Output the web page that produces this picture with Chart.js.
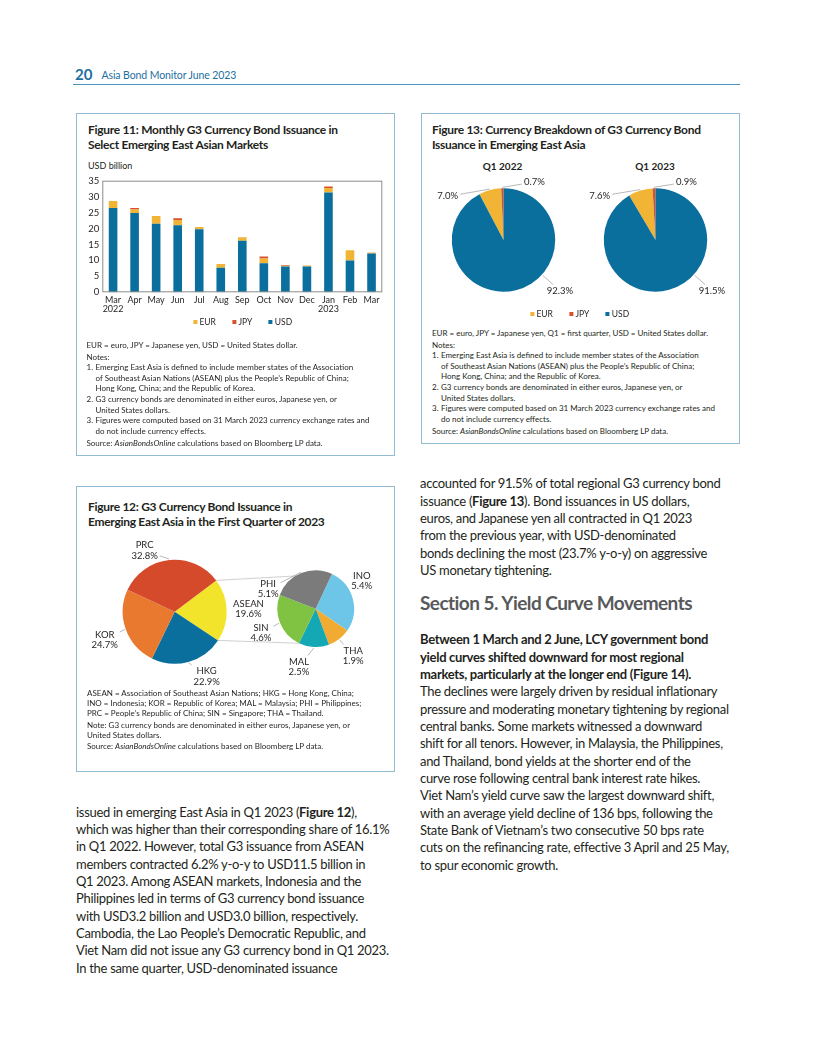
<!DOCTYPE html>
<html>
<head>
<meta charset="utf-8">
<script src="https://cdn.jsdelivr.net/npm/chart.js@4.4.0/dist/chart.umd.min.js"></script>
<style>
body { margin: 0; background: #fff; font-family: Lato, sans-serif; color: #231f20; }
.page { position: relative; width: 816px; height: 1056px; overflow: hidden; }
.abs { position: absolute; white-space: nowrap; }
.box { position: absolute; border: 1px solid #93bbd1; box-sizing: border-box; }
.ftitle { position: absolute; font-weight: 700; font-size: 12px; line-height: 15px; letter-spacing: -0.3px; white-space: nowrap; }
.notes { position: absolute; font-size: 8px; line-height: 10.6px; white-space: nowrap; }
.notes .gap { margin-top: 1.5px; }
.notes .li { position: relative; padding-left: 9px; }
.notes .li span { position: absolute; left: 0; }
.body { position: absolute; font-size: 13px; line-height: 17.35px; letter-spacing: -0.3px; white-space: nowrap; }
.legend { position: absolute; display: flex; gap: 16px; font-size: 8.5px; transform: translateX(-50%); white-space: nowrap; }
.legend i { display: inline-block; width: 4.5px; height: 4.5px; margin-right: 2px; vertical-align: 1px; }
canvas { position: absolute; }
</style>
</head>
<body>
<div class="page">
  <div class="abs" style="left:75px;top:65px;font-size:15px;font-weight:700;color:#1e6f9f;">20</div>
  <div class="abs" style="left:101.5px;top:68.5px;font-size:10.5px;color:#1e6f9f;letter-spacing:-0.1px;">Asia Bond Monitor June 2023</div>
  <div class="abs" style="left:73px;top:84px;width:667px;height:1px;background:#4a93bb;"></div>

  <!-- Figure 11 -->
  <div class="box" style="left:76px;top:112.5px;width:319px;height:343px;"></div>
  <div class="ftitle" style="left:88px;top:122px;">Figure 11: Monthly G3 Currency Bond Issuance in<br>Select Emerging East Asian Markets</div>
  <div class="abs" style="left:88px;top:160px;font-size:9px;">USD billion</div>
  <canvas id="fig11" width="315" height="150" style="left:78px;top:172px;"></canvas>
  <div class="legend" id="leg11" style="left:242.5px;top:317px;"></div>
  <div class="notes" style="left:86.5px;top:339.5px;">
    <div>EUR = euro, JPY = Japanese yen, USD = United States dollar.</div>
    <div class="gap">Notes:</div>
    <div class="li"><span>1.</span>Emerging East Asia is defined to include member states of the Association<br>of Southeast Asian Nations (ASEAN) plus the People’s Republic of China;<br>Hong Kong, China; and the Republic of Korea.</div>
    <div class="li"><span>2.</span>G3 currency bonds are denominated in either euros, Japanese yen, or<br>United States dollars.</div>
    <div class="li"><span>3.</span>Figures were computed based on 31 March 2023 currency exchange rates and<br>do not include currency effects.</div>
    <div class="gap">Source: <i>AsianBondsOnline</i> calculations based on Bloomberg LP data.</div>
  </div>

  <!-- Figure 13 -->
  <div class="box" style="left:421px;top:112.5px;width:319px;height:331.5px;"></div>
  <div class="ftitle" style="left:432px;top:122px;">Figure 13: Currency Breakdown of G3 Currency Bond<br>Issuance in Emerging East Asia</div>
  <div class="abs" id="pt0" style="left:502.5px;top:160px;font-size:10px;font-weight:700;transform:translateX(-50%);"></div>
  <div class="abs" id="pt1" style="left:655px;top:160px;font-size:10px;font-weight:700;transform:translateX(-50%);"></div>
  <canvas id="fig13a" width="160" height="135" style="left:424px;top:172px;"></canvas>
  <canvas id="fig13b" width="160" height="135" style="left:576px;top:172px;"></canvas>
  <div class="legend" id="leg13" style="left:579.5px;top:309px;"></div>
  <div class="notes" style="left:432px;top:327.5px;">
    <div>EUR = euro, JPY = Japanese yen, Q1 = first quarter, USD = United States dollar.</div>
    <div class="gap">Notes:</div>
    <div class="li"><span>1.</span>Emerging East Asia is defined to include member states of the Association<br>of Southeast Asian Nations (ASEAN) plus the People’s Republic of China;<br>Hong Kong, China; and the Republic of Korea.</div>
    <div class="li"><span>2.</span>G3 currency bonds are denominated in either euros, Japanese yen, or<br>United States dollars.</div>
    <div class="li"><span>3.</span>Figures were computed based on 31 March 2023 currency exchange rates and<br>do not include currency effects.</div>
    <div class="gap">Source: <i>AsianBondsOnline</i> calculations based on Bloomberg LP data.</div>
  </div>

  <!-- Figure 12 -->
  <div class="box" style="left:76px;top:486px;width:319px;height:285.5px;"></div>
  <div class="ftitle" style="left:88px;top:499px;">Figure 12: G3 Currency Bond Issuance in<br>Emerging East Asia in the First Quarter of 2023</div>
  <canvas id="fig12" width="316" height="155" style="left:78px;top:535px;"></canvas>
  <canvas id="fig12sub" width="150" height="135" style="left:246px;top:555px;"></canvas>
  <div class="notes" style="left:87px;top:688px;line-height:10px;">
    <div>ASEAN = Association of Southeast Asian Nations; HKG = Hong Kong, China;<br>INO = Indonesia; KOR = Republic of Korea; MAL = Malaysia; PHI = Philippines;<br>PRC = People’s Republic of China; SIN = Singapore; THA = Thailand.</div>
    <div class="gap">Note: G3 currency bonds are denominated in either euros, Japanese yen, or<br>United States dollars.</div>
    <div class="gap">Source: <i>AsianBondsOnline</i> calculations based on Bloomberg LP data.</div>
  </div>

  <!-- body text -->
  <div class="body" style="left:76px;top:803.6px;">issued in emerging East Asia in Q1 2023 (<b>Figure 12</b>),<br>which was higher than their corresponding share of 16.1%<br>in Q1 2022. However, total G3 issuance from ASEAN<br>members contracted 6.2% y-o-y to USD11.5 billion in<br>Q1 2023. Among ASEAN markets, Indonesia and the<br>Philippines led in terms of G3 currency bond issuance<br>with USD3.2 billion and USD3.0 billion, respectively.<br>Cambodia, the Lao People’s Democratic Republic, and<br>Viet Nam did not issue any G3 currency bond in Q1 2023.<br>In the same quarter, USD-denominated issuance</div>
  <div class="body" style="left:420px;top:475.3px;">accounted for 91.5% of total regional G3 currency bond<br>issuance (<b>Figure 13</b>). Bond issuances in US dollars,<br>euros, and Japanese yen all contracted in Q1 2023<br>from the previous year, with USD-denominated<br>bonds declining the most (23.7% y-o-y) on aggressive<br>US monetary tightening.</div>
  <div class="abs" style="left:420px;top:591px;font-size:19px;line-height:24px;font-weight:700;color:#58595b;letter-spacing:-0.55px;">Section 5. Yield Curve Movements</div>
  <div class="body" style="left:420px;top:631.3px;"><b>Between 1 March and 2 June, LCY government bond<br>yield curves shifted downward for most regional<br>markets, particularly at the longer end (Figure 14).</b><br>The declines were largely driven by residual inflationary<br>pressure and moderating monetary tightening by regional<br>central banks. Some markets witnessed a downward<br>shift for all tenors. However, in Malaysia, the Philippines,<br>and Thailand, bond yields at the shorter end of the<br>curve rose following central bank interest rate hikes.<br>Viet Nam’s yield curve saw the largest downward shift,<br>with an average yield decline of 136 bps, following the<br>State Bank of Vietnam’s two consecutive 50 bps rate<br>cuts on the refinancing rate, effective 3 April and 25 May,<br>to spur economic growth.</div>
</div>

<script>
// Figure 11: monthly G3 issuance, USD billion
const months = [['Mar', '2022'], 'Apr', 'May', 'Jun', 'Jul', 'Aug', 'Sep', 'Oct', 'Nov', 'Dec', ['Jan', '2023'], 'Feb', 'Mar'];
const usdIssuance = [26.4, 24.9, 21.5, 21.0, 19.8, 7.7, 16.2, 9.1, 8.1, 8.1, 31.3, 10.0, 12.2];
const eurIssuance = [2.2, 1.1, 2.4, 1.7, 0.7, 1.2, 1.0, 1.5, 0.2, 0.3, 1.4, 3.2, 0.3];
const jpyIssuance = [0, 0.4, 0, 0.5, 0, 0, 0.1, 0.6, 0.3, 0, 0.5, 0, 0];
const yTicks = [0, 5, 10, 15, 20, 25, 30, 35];

// Figure 13: currency shares (%)
const currencies = ['EUR', 'JPY', 'USD'];
const shareQ1_2022 = [7.0, 0.7, 92.3];
const shareQ1_2023 = [7.6, 0.9, 91.5];
const pieTitles = ['Q1 2022', 'Q1 2023'];

// Figure 12: shares of Q1 2023 issuance (%)
const economies = ['ASEAN', 'HKG', 'KOR', 'PRC'];
const economyShare = [19.6, 22.9, 24.7, 32.8];
const aseanMembers = ['INO', 'THA', 'MAL', 'SIN', 'PHI'];
const aseanShare = [5.4, 1.9, 2.5, 4.6, 5.1];

const COL = { EUR: '#f1b434', JPY: '#d9512c', USD: '#0a6f9d' };
const FONT = 'Lato';
Chart.defaults.font.family = FONT;
Chart.defaults.color = '#231f20';
Chart.defaults.animation = false;

function buildLegend(id, names) {
    document.getElementById(id).innerHTML = names
        .map(n => `<span><i style="background:${COL[n]}"></i>${n}</span>`).join('');
}

const plotFrame = {
    id: 'plotFrame',
    afterDraw(chart) {
        const { left, top, width, height } = chart.chartArea;
        const ctx = chart.ctx;
        ctx.save();
        ctx.strokeStyle = '#8c8c8c';
        ctx.lineWidth = 1;
        ctx.strokeRect(left + 0.5, top + 0.5, width - 1, height - 1);
        ctx.restore();
    }
};

// labels with leader lines for pie slices
const sliceLabels = {
    id: 'sliceLabels',
    afterDatasetsDraw(chart, args, opts) {
        if (!opts.texts) return;
        const ctx = chart.ctx;
        const arcs = chart.getDatasetMeta(0).data;
        ctx.save();
        ctx.font = `${opts.size}px ${FONT}`;
        ctx.textAlign = 'center';
        ctx.textBaseline = 'middle';
        arcs.forEach((arc, i) => {
            const { x, y, startAngle, endAngle, outerRadius: r } = arc;
            const spot = opts.spots[i];
            let a = spot[0] * Math.PI / 180;
            const lx = x + spot[1] * r * Math.cos(a), ly = y + spot[1] * r * Math.sin(a);
            const lines = opts.texts[i];
            const lh = opts.size * 1.1;
            let hw = 0;
            ctx.fillStyle = '#231f20';
            lines.forEach((t, k) => {
                hw = Math.max(hw, ctx.measureText(t).width / 2);
                ctx.fillText(t, lx, ly + (k - (lines.length - 1) / 2) * lh);
            });
            if (opts.noLeader && opts.noLeader.includes(i)) return;
            const hh = lines.length * lh / 2;
            let anchor = (startAngle + endAngle) / 2;
            if (endAngle - startAngle > Math.PI) {
                while (a < startAngle) a += 2 * Math.PI;
                while (a > startAngle + 2 * Math.PI) a -= 2 * Math.PI;
                anchor = Math.min(Math.max(a, startAngle + 0.2), endAngle - 0.2);
            }
            const px = x + (r + 1) * Math.cos(anchor), py = y + (r + 1) * Math.sin(anchor);
            const dx = px - lx, dy = py - ly;
            const s = Math.min(dx ? (hw + 2) / Math.abs(dx) : Infinity, dy ? (hh + 1) / Math.abs(dy) : Infinity);
            if (s >= 1) return;
            ctx.strokeStyle = '#9a9a9a';
            ctx.lineWidth = 0.7;
            ctx.beginPath();
            ctx.moveTo(lx + s * dx, ly + s * dy);
            ctx.lineTo(px, py);
            ctx.stroke();
        });
        ctx.restore();
    }
};

// grey lines joining the ASEAN slice to the breakdown pie
const connectors = {
    id: 'connectors',
    afterDatasetsDraw(chart, args, opts) {
        const sub = opts.target && opts.target();
        if (!sub) return;
        const main = chart.getDatasetMeta(0).data[opts.from];
        const arcs = sub.getDatasetMeta(0).data;
        const c1 = chart.canvas.getBoundingClientRect(), c2 = sub.canvas.getBoundingClientRect();
        const ox = c2.left - c1.left, oy = c2.top - c1.top;
        const pt = (arc, ang, dx, dy) => [dx + arc.x + arc.outerRadius * Math.cos(ang), dy + arc.y + arc.outerRadius * Math.sin(ang)];
        const pairs = [
            [pt(main, main.startAngle, 0, 0), pt(arcs[0], arcs[0].startAngle, ox, oy)],
            [pt(main, main.endAngle, 0, 0), pt(arcs[2], arcs[2].endAngle, ox, oy)]
        ];
        const ctx = chart.ctx;
        ctx.save();
        ctx.strokeStyle = '#c4c4c4';
        ctx.lineWidth = 0.8;
        pairs.forEach(([p, q]) => {
            ctx.beginPath();
            ctx.moveTo(p[0], p[1]);
            ctx.lineTo(q[0], q[1]);
            ctx.stroke();
        });
        ctx.restore();
    }
};

// ---- Figure 11
new Chart(document.getElementById('fig11'), {
    type: 'bar',
    data: {
        labels: months,
        datasets: [
            { label: 'USD', data: usdIssuance, backgroundColor: COL.USD },
            { label: 'EUR', data: eurIssuance, backgroundColor: COL.EUR },
            { label: 'JPY', data: jpyIssuance, backgroundColor: COL.JPY }
        ]
    },
    options: {
        responsive: false,
        layout: { padding: { top: 5.3, right: 10.7, left: 0, bottom: 0 } },
        datasets: { bar: { categoryPercentage: 1, barPercentage: 0.4 } },
        scales: {
            x: {
                stacked: true,
                grid: { display: false, drawTicks: false },
                border: { display: false },
                ticks: { maxRotation: 0, autoSkip: false, padding: 3, font: { size: 9, lineHeight: 1.05 } },
                afterFit: axis => { axis.height = 29.7; }
            },
            y: {
                stacked: true,
                min: 0,
                max: 35,
                grid: { display: false, drawTicks: false },
                border: { display: false },
                ticks: { padding: 3, font: { size: 9.5 } },
                afterBuildTicks: axis => { axis.ticks = yTicks.map(v => ({ value: v })); },
                afterFit: axis => { axis.width = 24.3; }
            }
        },
        plugins: { legend: { display: false }, tooltip: { enabled: false } }
    },
    plugins: [plotFrame]
});
buildLegend('leg11', currencies);

// ---- Figure 13
const pctText = arr => arr.map(v => [v.toFixed(1) + '%']);
const currencySpots = [[218, 1.37], [-62, 1.27], [42, 1.47]];
[shareQ1_2022, shareQ1_2023].forEach((shares, k) => {
    document.getElementById('pt' + k).textContent = pieTitles[k];
    new Chart(document.getElementById(k ? 'fig13b' : 'fig13a'), {
        type: 'pie',
        data: {
            labels: currencies,
            datasets: [{ data: shares, backgroundColor: currencies.map(c => COL[c]), borderWidth: 0 }]
        },
        options: {
            responsive: false,
            rotation: -(shares[0] + shares[1]) / 100 * 360,
            layout: { padding: { left: 27.8, right: 28.8, top: 16.3, bottom: 15.3 } },
            plugins: {
                legend: { display: false },
                tooltip: { enabled: false },
                sliceLabels: { texts: pctText(shares), spots: currencySpots, size: 9.5 }
            }
        },
        plugins: [sliceLabels]
    });
});
buildLegend('leg13', currencies);

// ---- Figure 12
const nameText = (names, vals) => names.map((n, i) => [n, vals[i].toFixed(1) + '%']);
const subChart = new Chart(document.getElementById('fig12sub'), {
    type: 'pie',
    data: {
        labels: aseanMembers,
        datasets: [{ data: aseanShare, backgroundColor: ['#6dc6e7', '#f1ab33', '#14a7b4', '#80c242', '#7b7b7b'], borderWidth: 0 }]
    },
    options: {
        responsive: false,
        rotation: 25,
        layout: { padding: { left: 31.3, right: 41.9, top: 15.3, bottom: 42.9 } },
        plugins: {
            legend: { display: false },
            tooltip: { enabled: false },
            sliceLabels: {
                texts: nameText(aseanMembers, aseanShare),
                spots: [[-31, 1.4], [51.5, 1.57], [106, 1.58], [156, 1.56], [202.4, 1.34]],
                noLeader: [0],
                size: 9.5
            }
        }
    },
    plugins: [sliceLabels]
});

new Chart(document.getElementById('fig12'), {
    type: 'pie',
    data: {
        labels: economies,
        datasets: [{ data: economyShare, backgroundColor: ['#f2e42b', '#0a6f9d', '#e8792f', '#d64a2c'], borderWidth: 0 }]
    },
    options: {
        responsive: false,
        rotation: 53,
        layout: { padding: { left: 44.7, right: 167.3, top: 24.7, bottom: 26.3 } },
        plugins: {
            legend: { display: false },
            tooltip: { enabled: false },
            sliceLabels: {
                texts: nameText(economies, economyShare),
                spots: [[-2, 1.42], [63.8, 1.39], [158, 1.45], [243.8, 1.31]],
                noLeader: [0],
                size: 9.5
            },
            connectors: { target: () => subChart, from: 0 }
        }
    },
    plugins: [sliceLabels, connectors]
});
</script>
</body>
</html>
